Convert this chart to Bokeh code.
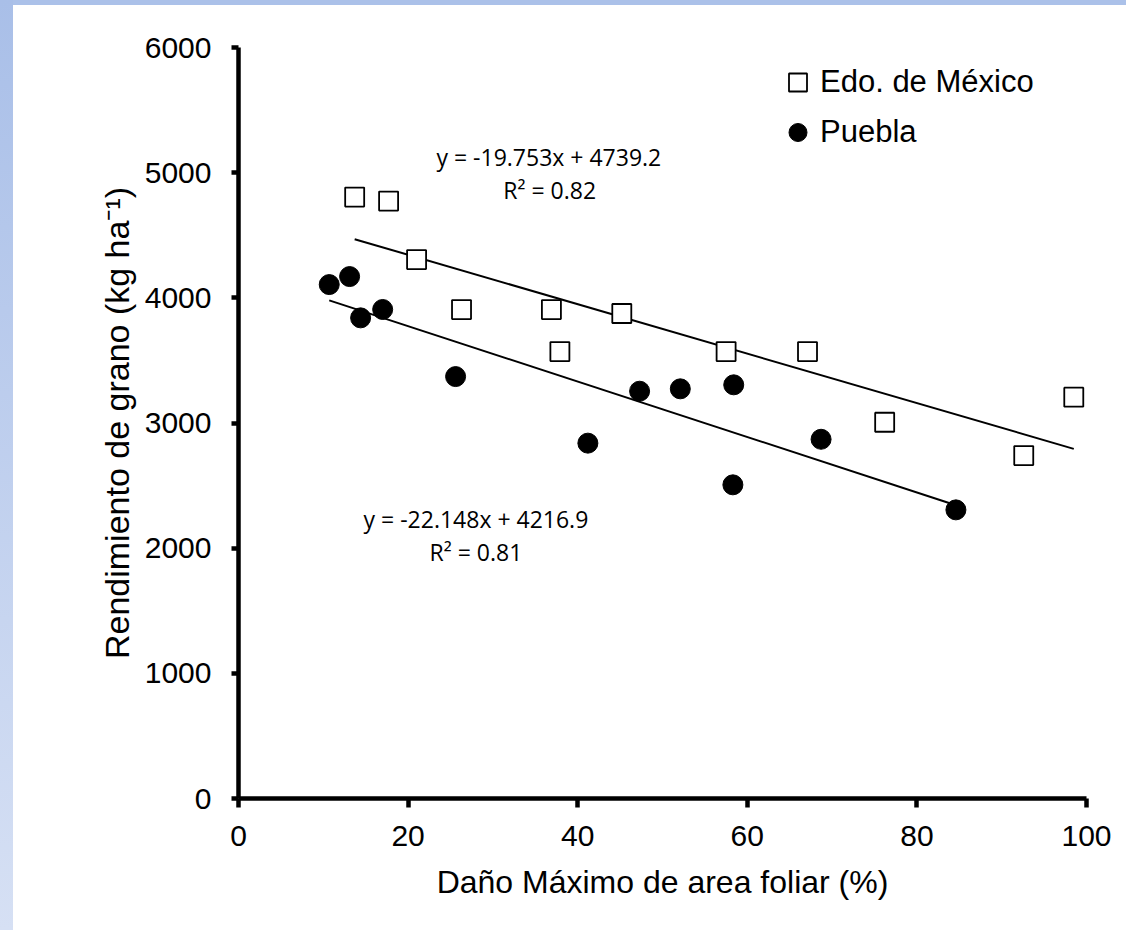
from bokeh.plotting import figure
from bokeh.models import Legend, LegendItem, Label, FixedTicker, Range1d
from bokeh.embed import file_html
from bokeh.resources import INLINE

# ---- data ----
edo_x = [13.7, 17.7, 21.0, 26.3, 36.9, 37.9, 45.2, 57.5, 67.1, 76.2, 92.6, 98.5]
edo_y = [4805, 4773, 4306, 3906, 3906, 3571, 3875, 3571, 3571, 3006, 2740, 3206]
pue_x = [10.7, 13.1, 14.4, 17.0, 25.6, 41.2, 47.3, 52.1, 58.4, 68.7, 58.3, 84.6]
pue_y = [4106, 4170, 3840, 3907, 3371, 2839, 3254, 3273, 3305, 2870, 2506, 2306]

edo_slope, edo_intercept, edo_r2 = -19.753, 4739.2, "0.82"
pue_slope, pue_intercept, pue_r2 = -22.148, 4216.9, "0.81"

x_ticks = [0, 20, 40, 60, 80, 100]
y_ticks = [0, 1000, 2000, 3000, 4000, 5000, 6000]

series_names = ["Edo. de México", "Puebla"]
x_title = "Daño Máximo de area foliar (%)"
y_title = "Rendimiento de grano (kg ha⁻¹)"

# ---- figure ----
FONT = "Liberation Sans"
p = figure(width=1126, height=930, output_backend="svg", toolbar_location=None,
           x_range=Range1d(0, 100), y_range=Range1d(0, 6000),
           min_border_left=238, min_border_right=40, min_border_top=47, min_border_bottom=132)
p.border_fill_color = None
p.background_fill_color = "white"
p.outline_line_color = None
p.grid.visible = False
p.styles = {
    "background": "linear-gradient(to bottom, #a9bfe8, #d6e0f4) 0 0 / 13px 100% no-repeat, "
                  "linear-gradient(#abc1e9, #abc1e9) 0 0 / 100% 5px no-repeat, #ffffff"
}

for ax, ticks, tout, stand in ((p.xaxis[0], x_ticks, 9, 18), (p.yaxis[0], y_ticks, 7, 20)):
    ax.ticker = FixedTicker(ticks=ticks)
    ax.axis_line_width = 4.5
    ax.axis_line_color = "black"
    ax.major_tick_line_width = 4.5
    ax.major_tick_line_color = "black"
    ax.major_tick_out = tout
    ax.major_tick_in = 0
    ax.minor_tick_line_color = None
    ax.major_label_text_font = FONT
    ax.major_label_text_font_size = "30px"
    ax.major_label_text_color = "black"
    ax.major_label_standoff = stand
    ax.axis_label_text_font = FONT
    ax.axis_label_text_font_size = "32px"
    ax.axis_label_text_font_style = "normal"
    ax.axis_label_text_color = "black"

p.xaxis.axis_label = x_title
p.xaxis.axis_label_standoff = 15
p.yaxis.axis_label = y_title
p.yaxis.axis_label_standoff = 6
p.yaxis.axis_label_text_font_size = "34px"

# trend lines
ex = [min(edo_x), max(edo_x)]
px_ = [min(pue_x), max(pue_x)]
p.line(ex, [edo_slope * v + edo_intercept for v in ex], line_color="black", line_width=2)
p.line(px_, [pue_slope * v + pue_intercept for v in px_], line_color="black", line_width=2)

r_edo = p.scatter(edo_x, edo_y, marker="square", size=19, fill_color="white",
                  line_color="black", line_width=1.8)
r_pue = p.scatter(pue_x, pue_y, marker="circle", size=20, fill_color="black",
                  line_color="black", line_width=1)

legend = Legend(items=[LegendItem(label=series_names[0], renderers=[r_edo]),
                       LegendItem(label=series_names[1], renderers=[r_pue])],
                location=(537, 641), glyph_width=45, glyph_height=50, label_standoff=0,
                spacing=0, padding=0, margin=0, border_line_color=None,
                background_fill_alpha=0, label_text_font=FONT,
                label_text_font_size="31px", label_text_color="black")
p.add_layout(legend)

EQF = "Open Sans"
for (lx, ly, txt) in (
        (36.6, 5123, f"y = {edo_slope}x + {edo_intercept}"),
        (36.7, 4865, f"R² = {edo_r2}"),
        (28.0, 2237, f"y = {pue_slope}x + {pue_intercept}"),
        (28.0, 1968, f"R² = {pue_r2}")):
    p.add_layout(Label(x=lx, y=ly, text=txt, text_align="center", text_baseline="middle",
                       text_font=EQF, text_font_size="23px", text_color="black"))

open("out.html", "w").write(file_html(p, INLINE))
